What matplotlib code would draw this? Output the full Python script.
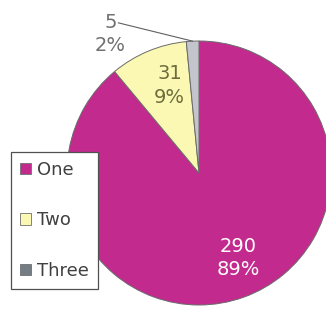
import numpy as np
import matplotlib
matplotlib.use('Agg')
import matplotlib.pyplot as plt
from matplotlib.patches import Patch

labels = ['One', 'Two', 'Three']
values = [290, 31, 5]
pct_text = ['89%', '9%', '2%']
colors = ['#C32A8E', '#FBF8B4', '#C4C4CC']
legend_colors = ['#C32A8E', '#FBF8B4', '#747C84']

fig = plt.figure(figsize=(3.26, 3.12), dpi=100)
ax = fig.add_axes([0, 0, 1, 1])

cx, cy, r = 199, 139, 132
wedges, _ = ax.pie(values, colors=colors, startangle=90, counterclock=False,
                   center=(cx, cy), radius=r, frame=True,
                   wedgeprops=dict(edgecolor='#6a6a6a', linewidth=0.7))
ax.set_xlim(0, 326)
ax.set_ylim(0, 312)
ax.set_aspect('equal')
ax.axis('off')

def polar(angle, dist):
    a = np.deg2rad(angle)
    return cx + dist * r * np.cos(a), cy + dist * r * np.sin(a)

# inside labels
mid0 = (wedges[0].theta1 + wedges[0].theta2) / 2
x, y = polar(mid0 + 5, 0.71)
ax.text(x, y, f'{values[0]}\n{pct_text[0]}', color='white', fontsize=14,
        ha='center', va='center', linespacing=1.3)

mid1 = (wedges[1].theta1 + wedges[1].theta2) / 2
x, y = polar(mid1 - 4, 0.7)
ax.text(x, y, f'{values[1]}\n{pct_text[1]}', color='#6E6C3C', fontsize=14,
        ha='center', va='center', linespacing=1.3)

# outside label with leader line
mid2 = (wedges[2].theta1 + wedges[2].theta2) / 2
px, py = polar(mid2, 1.0)
tx, ty = polar(122.5, 1.25)
ax.text(tx, ty, f'{values[2]}\n{pct_text[2]}', color='#707070', fontsize=14,
        ha='center', va='center', linespacing=1.3)
ax.plot([tx + 8, px], [ty + 11, py], color='#606060', linewidth=0.8)

handles = [Patch(facecolor=c, edgecolor='#707070', linewidth=0.6) for c in legend_colors]
leg = ax.legend(handles, labels, loc='upper left', bbox_to_anchor=(0.034, 0.513),
                frameon=True, fancybox=False, framealpha=1, edgecolor='#505050',
                fontsize=13, labelspacing=1.8, handlelength=0.6, handleheight=0.6,
                handletextpad=0.35, borderpad=0.5, borderaxespad=0)
leg.get_frame().set_linewidth(0.9)
for t in leg.get_texts():
    t.set_color('#404040')

fig.savefig('out.png', dpi=100)
